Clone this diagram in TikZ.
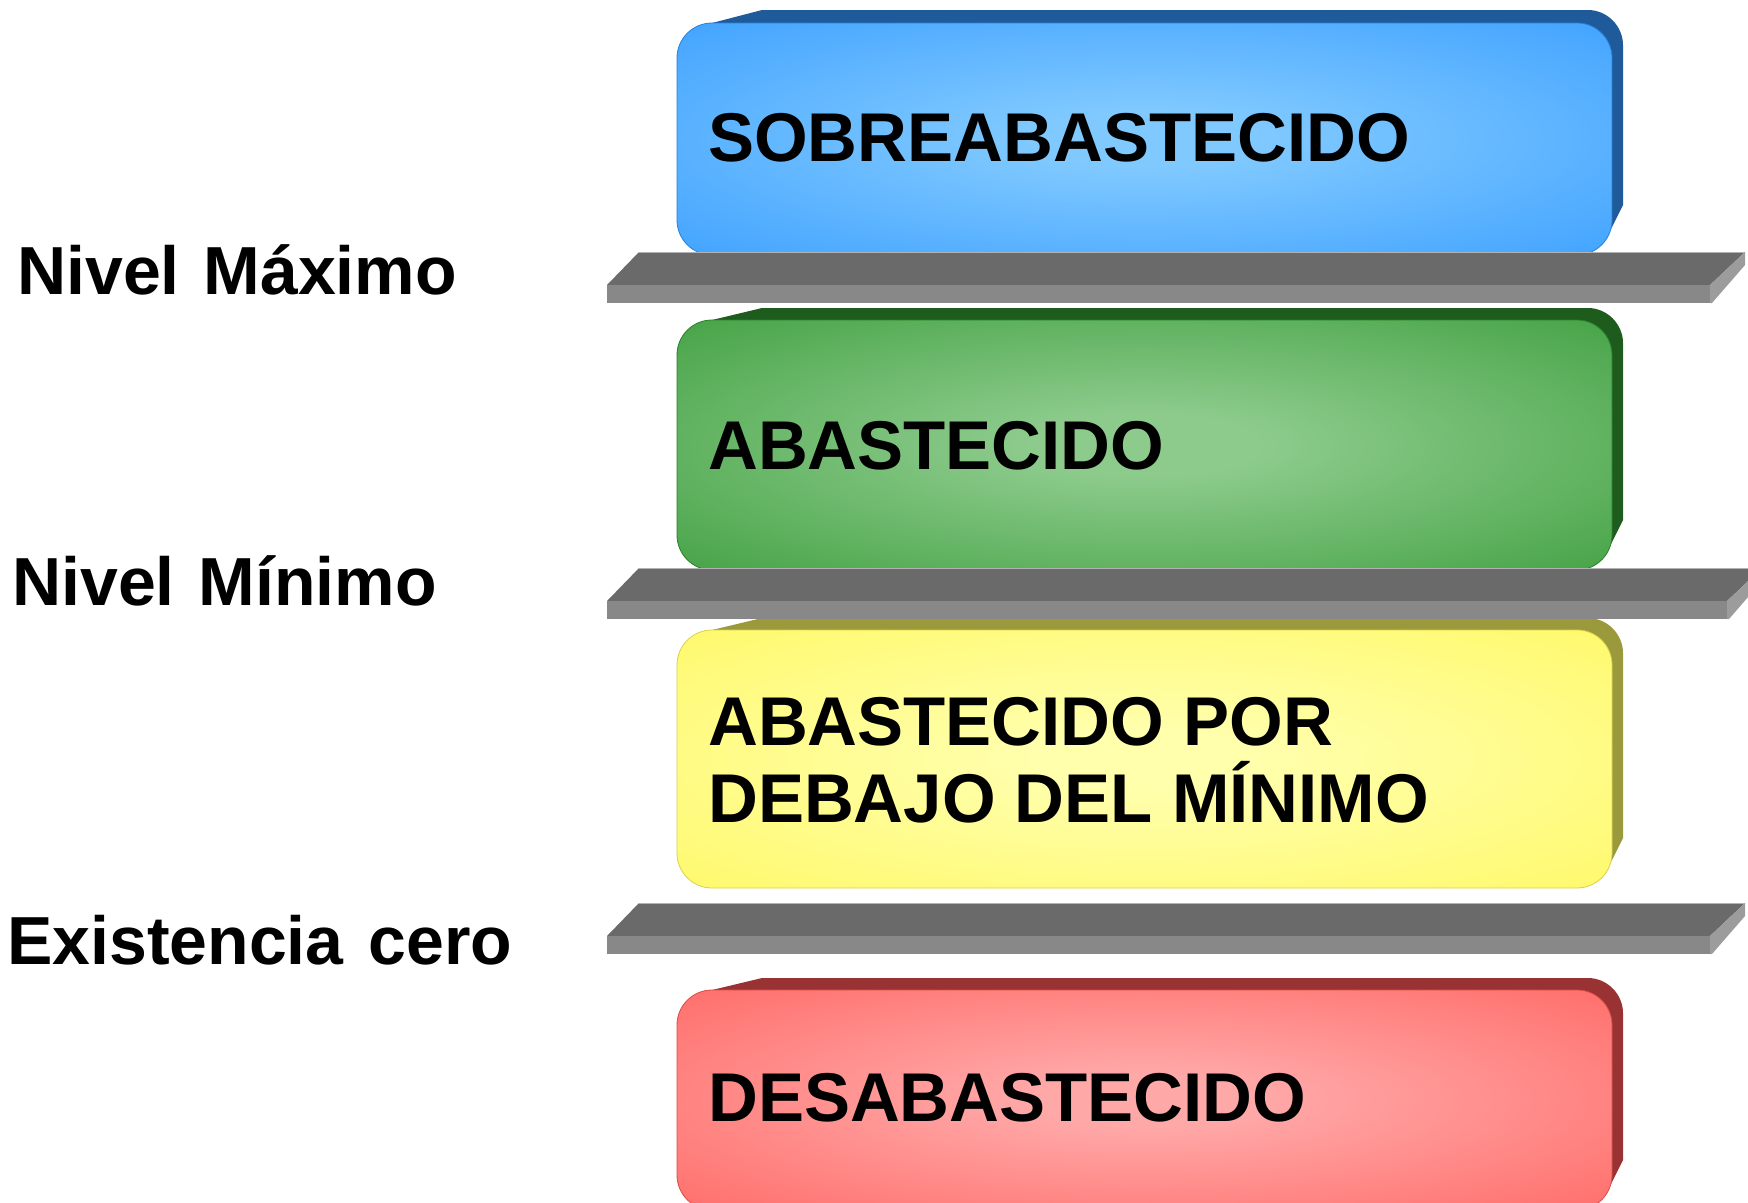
\documentclass[tikz,border=0pt]{standalone}
\usepackage{fontspec}
\setmainfont{Liberation Sans}
\usepackage{tikz}
\usetikzlibrary{calc}
\definecolor{blueedge}{HTML}{2C96FF}
\definecolor{bluemid}{HTML}{80C9FF}
\definecolor{blueback}{HTML}{1F5B9A}
\definecolor{greenedge}{HTML}{2E962E}
\definecolor{greenmid}{HTML}{8DCB8D}
\definecolor{greenback}{HTML}{1E5C1E}
\definecolor{yellowedge}{HTML}{FFF755}
\definecolor{yellowmid}{HTML}{FFFFAC}
\definecolor{yellowback}{HTML}{9A9A3C}
\definecolor{rededge}{HTML}{FF5A55}
\definecolor{redmid}{HTML}{FFA8A8}
\definecolor{redback}{HTML}{993333}
\definecolor{shelftop}{HTML}{6A6A6A}
\definecolor{shelffront}{HTML}{888888}
\definecolor{shelfend}{HTML}{9C9C9C}
\colorlet{blockmid}{bluemid}
\colorlet{blockedge}{blueedge}
\pgfdeclareradialshading[blockmid,blockedge]{glow}{\pgfpoint{0bp}{0bp}}{%
  color(0bp)=(blockmid); color(6bp)=(blockmid); color(46bp)=(blockedge); color(72bp)=(blockedge)}

% #1 top of back face, #2 top of front face, #3 bottom of front face, #4 colour
\newcommand{\levelbox}[4]{%
  \colorlet{blockmid}{#4mid}\colorlet{blockedge}{#4edge}%
  \fill[#4back] (712,#2) -- (762,#1) -- (1588,#1)
    .. controls (1607,#1) and (1623,#1+16) .. (1623,#1+35)
    -- (1623,#3-50) -- (1611,#3-26) -- (712,#3-26) -- cycle;
  \shade[shading=glow, rounded corners=35pt] (677,#2) rectangle (1612,#3);
  \draw[#4edge!85!black, line width=0.8pt, rounded corners=35pt] (677,#2) rectangle (1612,#3);
}

\begin{document}
\begin{tikzpicture}[x=1pt, y=-1pt,
  blocktext/.style={anchor=base west, inner sep=0pt, text=black,
                    font=\fontsize{69}{77}\selectfont\bfseries},
  levellbl/.style={anchor=base west, inner sep=0pt, text=black,
                   font=\fontsize{68}{76}\selectfont\bfseries},
]
\useasboundingbox (0,0) rectangle (1748,1202);

% stock levels
\levelbox{10}{23}{255}{blue}
\levelbox{308}{320}{570}{green}
\levelbox{618}{630}{888}{yellow}
\levelbox{978}{990}{1210}{red}

% shelves
\foreach \t/\ext in {252/0, 568/17, 903/0} {
  \fill[shelftop] (639,\t) -- (1745+\ext,\t) -- (1710+\ext,\t+33) -- (607,\t+33) -- cycle;
  \draw[gray!60, line width=0.8pt] (639,\t) -- (1745+\ext,\t);
  \fill[shelffront] (607,\t+33) rectangle (1710+\ext,\t+51);
  \fill[shelfend] (1710+\ext,\t+33) -- (1745+\ext,\t) -- (1745+\ext,\t+13)
    -- (1712+\ext,\t+51) -- (1710+\ext,\t+51) -- cycle;
}

\node[blocktext] (sobre) at (708,161) {SOBREABASTECIDO};
\node[blocktext] (abast) at (708,469) {ABASTECIDO};
\node[blocktext] (bajoa) at (708,745) {ABASTECIDO POR};
\node[blocktext] (bajob) at (708,822) {DEBAJO DEL MÍNIMO};
\node[blocktext] (desab) at (708,1121) {DESABASTECIDO};

\node[levellbl] (maxlbl)  at (17,294) {Nivel\hspace{24pt}Máximo};
\node[levellbl] (minlbl)  at (12,605) {Nivel\hspace{24pt}Mínimo};
\node[levellbl] (cerolbl) at (7,964)  {Existencia\hspace{25pt}cero};
\end{tikzpicture}
\end{document}
